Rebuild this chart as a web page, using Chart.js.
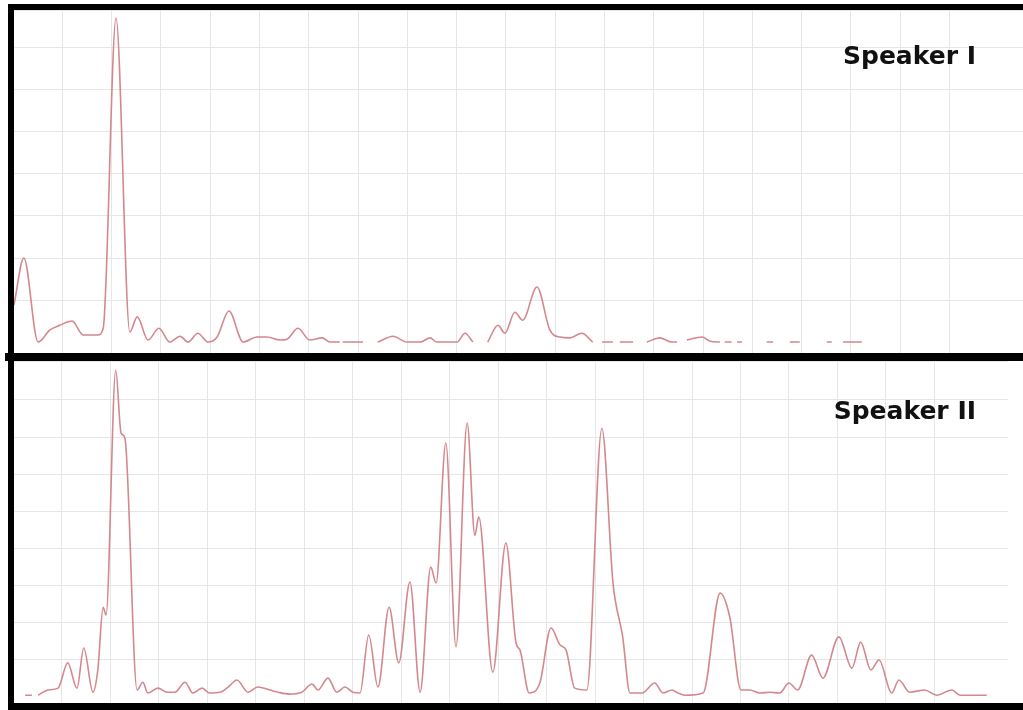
<!DOCTYPE html>
<html>
<head>
<meta charset="utf-8">
<script src="https://cdn.jsdelivr.net/npm/chart.js@4.4.1/dist/chart.umd.min.js"></script>
<style>
  html,body{margin:0;padding:0;background:#fff;width:1023px;height:710px;overflow:hidden}
  .panel{position:absolute}
  .bar{position:absolute;background:#000;z-index:5}
  .lbl{position:absolute;z-index:4;font-family:"DejaVu Sans",sans-serif;font-weight:bold;font-size:25px;color:#111;text-align:right;width:200px}
</style>
</head>
<body>

<div class="panel" style="left:13px;top:10px;width:1010px;height:343px"><canvas id="spk1"></canvas></div>
<div class="panel" style="left:13px;top:361px;width:995px;height:342px"><canvas id="spk2"></canvas></div>

<div class="lbl" style="left:776px;top:41px">Speaker I</div>
<div class="lbl" style="left:776px;top:396px">Speaker II</div>

<div class="bar" style="left:8px;top:4px;width:6px;height:706px"></div>
<div class="bar" style="left:8px;top:4px;width:1015px;height:6px"></div>
<div class="bar" style="left:5px;top:353px;width:1018px;height:8px"></div>
<div class="bar" style="left:9px;top:703px;width:1014px;height:7px"></div>

<script>
// frame index (10 per grid column) and relative magnitude (10 per grid row)
// null = no value, line breaks there
const speaker1X = [0.2,2.2,5.1,7.5,9.5,12.0,14.2,17.2,18.3,20.9,23.7,25.2,27.4,29.6,31.8,33.9,35.5,37.5,39.6,41.4,43.8,46.7,49.5,51.5,54.2,55.6,57.8,60.2,62.7,64.3,66.3,
  66.6,66.9,71.0,72.5,74.0,77.1,79.9,82.6,84.6,86.0,90.1,91.7,93.3,94.8,96.3,98.4,99.8,101.8,103.4,106.3,108.9,111.0,113.0,115.4,117.6,
  118.5,119.5,121.7,122.4,123.1,125.8,127.2,128.6,131.2,133.7,134.7,135.7,136.7,139.8,141.4,143.4,
  143.9,144.4,145.8,146.3,146.9,147.9,150.4,152.9,154.2,155.9,157.6,159.6,162.3,165.1,166.1,167.2,168.4,172.2];
const speaker1Y = [8.8,20.0,0,2.9,4.0,5.0,1.7,1.7,3.3,77.1,2.4,6.0,0.5,3.3,0,1.4,0,2.1,0,1.2,7.4,0,1.2,1.2,0.5,0.7,3.3,0.5,1.0,0,0,
  null,0,0,null,0,1.4,0,0,1.0,0,0,2.1,0,null,0,4.0,2.1,7.1,5.2,13.1,2.9,1.2,1.0,2.1,0,
  null,0,0,null,0,0,null,0,1.0,0,0,null,0.5,1.2,0.2,0,
  null,0,0,null,0,0,null,0,0,null,0,0,null,0,0,null,0,0];

const speaker2X = [2.4,3.8,4.4,5.1,7.1,9.2,11.2,13.1,14.5,16.4,17.4,18.5,19.1,21.1,22.2,23.0,25.5,26.7,27.7,29.8,31.7,33.3,35.4,37.0,38.9,40.5,42.6,44.3,46.1,48.4,50.4,52.9,54.6,57.0,59.5,61.6,62.8,64.9,66.7,68.4,70.0,71.5,
  73.3,75.2,77.5,79.5,81.8,83.9,86.1,87.2,89.2,91.3,93.6,95.2,96.0,98.9,101.6,103.7,104.5,106.4,108.6,110.9,112.8,114.0,115.8,118.3,121.4,123.7,125.7,127.2,129.7,132.3,134.0,135.9,137.1,138.5,
  142.3,145.8,147.8,150.1,151.9,154.0,156.1,158.1,160.0,161.8,164.7,167.0,170.3,173.0,174.8,176.9,178.6,181.2,182.7,184.9,188.0,190.5,193.6,195.3,200.8];
const speaker2Y = [0.5,0.5,null,0.5,1.9,2.4,9.2,2.4,13.2,1.3,7.3,24.2,22.1,88.0,71.1,69.7,1.9,4.0,1.1,2.4,1.3,1.3,4.0,1.1,2.4,1.1,1.3,2.7,4.6,1.3,2.7,1.9,1.3,0.8,1.3,3.5,1.9,5.1,1.3,2.7,1.3,1.1,
  16.7,2.7,24.2,9.2,31.0,1.3,35.0,30.7,68.4,13.5,73.8,43.6,48.5,6.7,41.5,14.5,12.7,1.1,3.8,18.6,14.0,12.7,2.4,1.9,72.4,30.7,16.2,1.1,1.1,3.8,1.1,1.9,1.1,0.5,
  1.1,28.0,21.5,1.9,1.9,1.1,1.3,1.1,3.8,1.9,11.3,5.1,16.2,7.8,14.8,7.3,10.0,1.1,4.6,1.3,1.9,0.5,1.9,0.5,0.5];

const LINE = "#d4888d";
const GRID = "#e6e6e6";

function drawPanel(id, xs, ys, xMin, xMax, yMin, yMax){
  const pts = xs.map((x,i) => ({ x, y: ys[i] }));
  new Chart(document.getElementById(id), {
    type: "line",
    data: { datasets: [{ data: pts, borderColor: LINE, borderWidth: 1.6, pointRadius: 0,
      cubicInterpolationMode: "monotone", spanGaps: false, fill: false }] },
    options: {
      responsive: true, maintainAspectRatio: false, animation: false,
      layout: { padding: 0 },
      plugins: { legend: { display: false }, tooltip: { enabled: false } },
      scales: {
        x: { type: "linear", min: xMin, max: xMax, ticks: { display: false, stepSize: 10 },
             grid: { color: GRID, drawTicks: false }, border: { display: false },
             afterFit: s => { s.height = 0; } },
        y: { type: "linear", min: yMin, max: yMax, ticks: { display: false, stepSize: 10 },
             grid: { color: GRID, drawTicks: false }, border: { display: false },
             afterFit: s => { s.width = 0; } }
      }
    }
  });
}

drawPanel("spk1", speaker1X, speaker1Y, 0, 204.9, -2.6, 79.0);
drawPanel("spk2", speaker2X, speaker2Y, -0.1, 205.2, -1.6, 90.5);
</script>
</body>
</html>
